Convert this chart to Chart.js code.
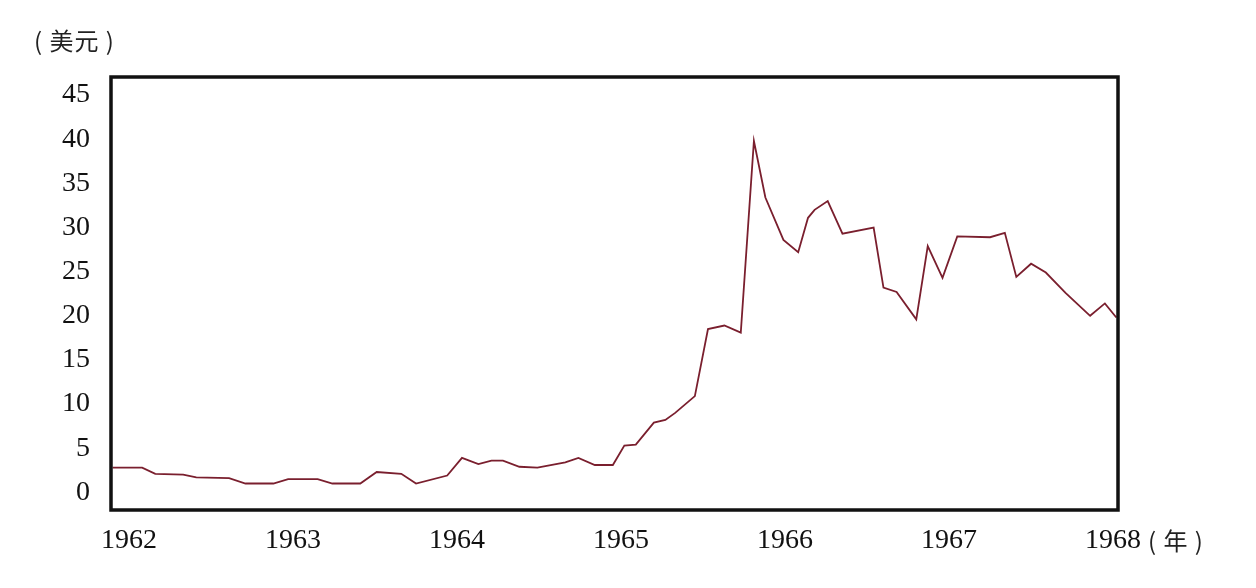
<!DOCTYPE html>
<html>
<head>
<meta charset="utf-8">
<script src="https://cdn.jsdelivr.net/npm/chart.js@4/dist/chart.umd.min.js"></script>
<style>
  body { margin: 0; background: #fff; }
  #wrap { position: relative; width: 1256px; height: 588px; }
  .lbl { position: absolute; font-family: "Noto Sans CJK SC", serif; font-size: 24px; color: #222; letter-spacing: 1px; }
</style>
</head>
<body>
<div id="wrap">
  <canvas id="c" width="1256" height="588"></canvas>
  <div class="lbl" style="left:34px; top:22px;">( 美元 )</div>
  <div class="lbl" style="left:1148px; top:522px;">( 年 )</div>
</div>
<script>
// time in fractional years, price in USD
const years = [1961.90, 1962.08, 1962.16, 1962.33, 1962.41, 1962.61, 1962.71, 1962.88, 1962.97,
  1963.15, 1963.24, 1963.41, 1963.51, 1963.66, 1963.75, 1963.94, 1964.03, 1964.13, 1964.21,
  1964.28, 1964.38, 1964.49, 1964.66, 1964.74, 1964.84, 1964.95, 1965.02, 1965.09, 1965.20,
  1965.27, 1965.33, 1965.45, 1965.53, 1965.63, 1965.73, 1965.81, 1965.88, 1965.99, 1966.08,
  1966.14, 1966.18, 1966.26, 1966.35, 1966.54, 1966.60, 1966.68, 1966.80, 1966.87, 1966.96,
  1967.05, 1967.25, 1967.34, 1967.41, 1967.50, 1967.59, 1967.71, 1967.86, 1967.95, 1968.02];
const prices = [2.8, 2.8, 2.1, 2.0, 1.7, 1.6, 1.0, 1.0, 1.5,
  1.5, 1.0, 1.0, 2.3, 2.1, 1.0, 1.9, 3.9, 3.2, 3.6,
  3.6, 2.9, 2.8, 3.4, 3.9, 3.1, 3.1, 5.3, 5.4, 7.9,
  8.2, 9.0, 10.9, 18.5, 18.9, 18.1, 39.8, 33.4, 28.6, 27.2,
  31.1, 32.0, 33.0, 29.3, 30.0, 23.2, 22.7, 19.6, 27.9, 24.3,
  29.0, 28.9, 29.4, 24.4, 25.9, 24.9, 22.6, 20.0, 21.4, 19.8];
const yearTicks = [1962, 1963, 1964, 1965, 1966, 1967, 1968];
const priceTicks = [0, 5, 10, 15, 20, 25, 30, 35, 40, 45];

const tickFont = { family: '"Liberation Serif", "DejaVu Serif", serif', size: 28 };

// thick black frame around the plot area
const framePlugin = {
  id: 'frame',
  afterDraw(chart) {
    const { ctx, chartArea: a } = chart;
    ctx.save();
    ctx.strokeStyle = '#111';
    ctx.lineWidth = 3.5;
    ctx.strokeRect(a.left, a.top, a.right - a.left, a.bottom - a.top);
    ctx.restore();
  }
};

new Chart(document.getElementById('c'), {
  type: 'line',
  data: {
    datasets: [{
      data: years.map((x, i) => ({ x, y: prices[i] })),
      borderColor: '#7a1f2e',
      borderWidth: 1.8,
      pointRadius: 0,
      tension: 0
    }]
  },
  options: {
    responsive: false,
    animation: false,
    layout: { padding: { top: 77, right: 138, left: 0, bottom: 0 } },
    plugins: { legend: { display: false }, tooltip: { enabled: false } },
    scales: {
      x: {
        type: 'linear', min: 1961.89, max: 1968.03,
        afterBuildTicks: s => { s.ticks = yearTicks.map(v => ({ value: v })); },
        afterFit: s => { s.height = 78; },
        grid: { display: false, drawTicks: false },
        border: { display: false },
        ticks: { font: tickFont, color: '#111', padding: 14, maxRotation: 0, callback: v => String(v) }
      },
      y: {
        min: -2, max: 47.05,
        afterBuildTicks: s => { s.ticks = priceTicks.map(v => ({ value: v })); },
        afterFit: s => { s.width = 111; },
        grid: { display: false, drawTicks: false },
        border: { display: false },
        ticks: { font: tickFont, color: '#111', padding: 21 }
      }
    }
  },
  plugins: [framePlugin]
});
</script>
</body>
</html>
